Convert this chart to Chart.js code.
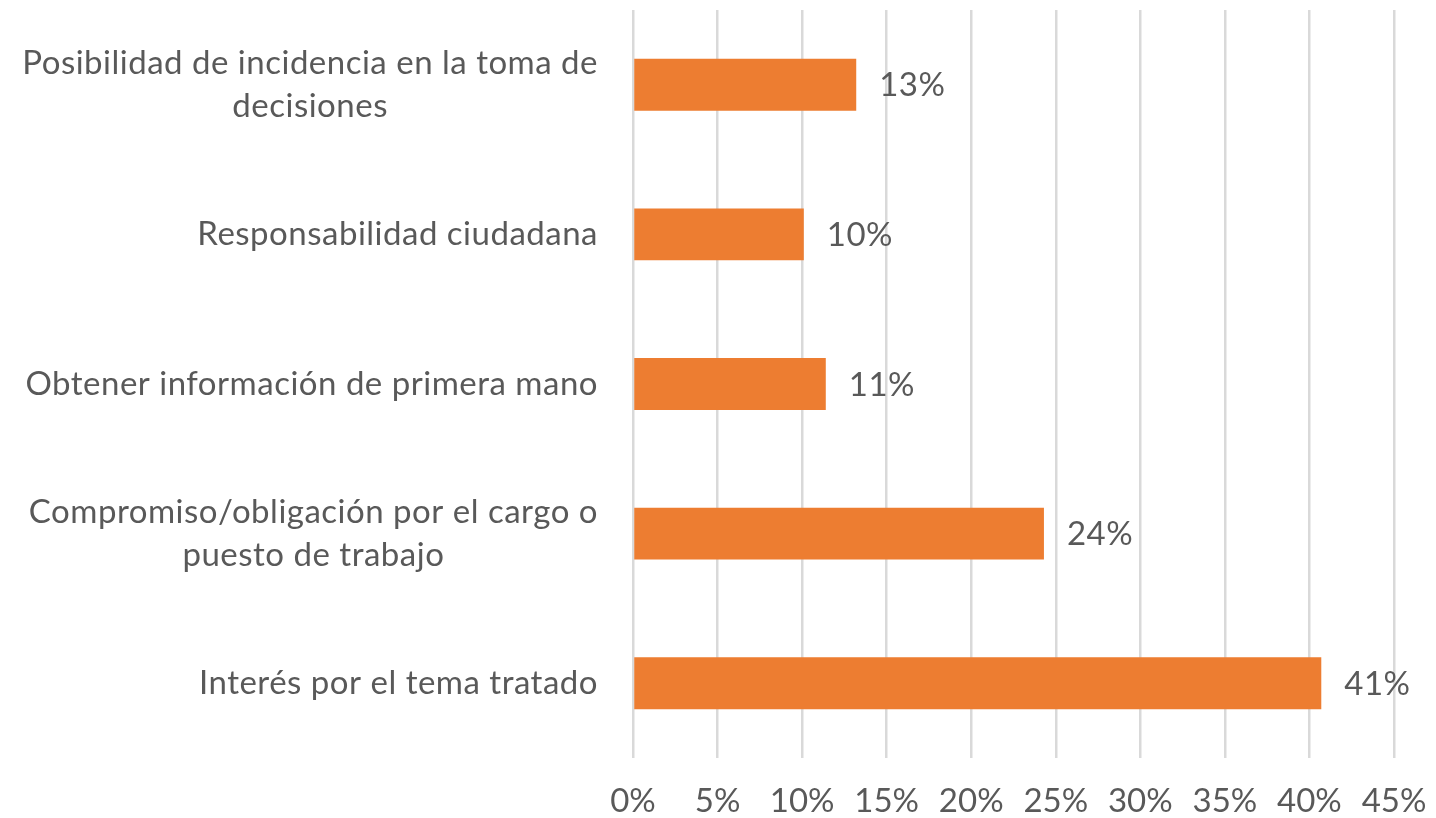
<!DOCTYPE html>
<html>
<head>
<meta charset="utf-8">
<script src="https://cdn.jsdelivr.net/npm/chart.js@4/dist/chart.umd.min.js"></script>
<style>
html,body{margin:0;padding:0;background:#fff;}
#c{display:block;}
</style>
</head>
<body>
<canvas id="c" width="1436" height="818"></canvas>
<script>
const categories = [
  ["Posibilidad de incidencia en la toma de", "decisiones"],
  ["Responsabilidad ciudadana"],
  ["Obtener información de primera mano"],
  ["Compromiso/obligación por el cargo o", "puesto de trabajo"],
  ["Interés por el tema tratado"]
];
const values = [13.2, 10.1, 11.4, 24.3, 40.7];
const valueLabels = ["13%", "10%", "11%", "24%", "41%"];
const xTicks = [0, 5, 10, 15, 20, 25, 30, 35, 40, 45];

const FONT = "Lato";
const FS = 33;
const TXT = "#595959";

const labelPlugin = {
  id: 'labels',
  afterDatasetsDraw(chart) {
    const ctx = chart.ctx;
    const ys = chart.scales.y;
    const area = chart.chartArea;
    ctx.save();
    ctx.font = FS + "px " + FONT;
    ctx.letterSpacing = "0.5px";
    ctx.fillStyle = TXT;
    ctx.textBaseline = "middle";
    categories.forEach((lines, i) => {
      const yc = ys.getPixelForTick(i);
      let w = 0;
      lines.forEach(l => { w = Math.max(w, ctx.measureText(l).width); });
      const xr = area.left - 35;
      ctx.textAlign = "center";
      lines.forEach((l, j) => {
        ctx.fillText(l, xr - w / 2, yc + (j - (lines.length - 1) / 2) * 43);
      });
    });
    const meta = chart.getDatasetMeta(0);
    ctx.textAlign = "left";
    meta.data.forEach((bar, i) => {
      ctx.fillText(valueLabels[i], bar.x + 23, bar.y + 1);
    });
    ctx.restore();
  }
};

new Chart(document.getElementById('c'), {
  type: 'bar',
  data: {
    labels: categories,
    datasets: [{
      data: values,
      backgroundColor: '#ED7D31',
      barPercentage: 0.347,
      categoryPercentage: 1
    }]
  },
  options: {
    indexAxis: 'y',
    responsive: false,
    animation: false,
    layout: { padding: { left: 0, right: 42, top: 10, bottom: 0 } },
    plugins: { legend: { display: false }, tooltip: { enabled: false } },
    scales: {
      y: {
        ticks: { display: false },
        grid: { display: false },
        border: { display: false },
        afterFit(s) { s.width = 633; }
      },
      x: {
        min: 0, max: 45,
        afterBuildTicks(s) { s.ticks = xTicks.map(v => ({ value: v })); },
        ticks: {
          callback: v => v + '%',
          color: TXT,
          font: { family: FONT, size: FS },
          padding: 24,
          maxRotation: 0
        },
        grid: { color: '#D9D9D9', lineWidth: 2.5, drawTicks: false },
        border: { display: false },
        afterFit(s) { s.height = 60; s.paddingLeft = 0; s.paddingRight = 0; }
      }
    }
  },
  plugins: [labelPlugin]
});
</script>
</body>
</html>
